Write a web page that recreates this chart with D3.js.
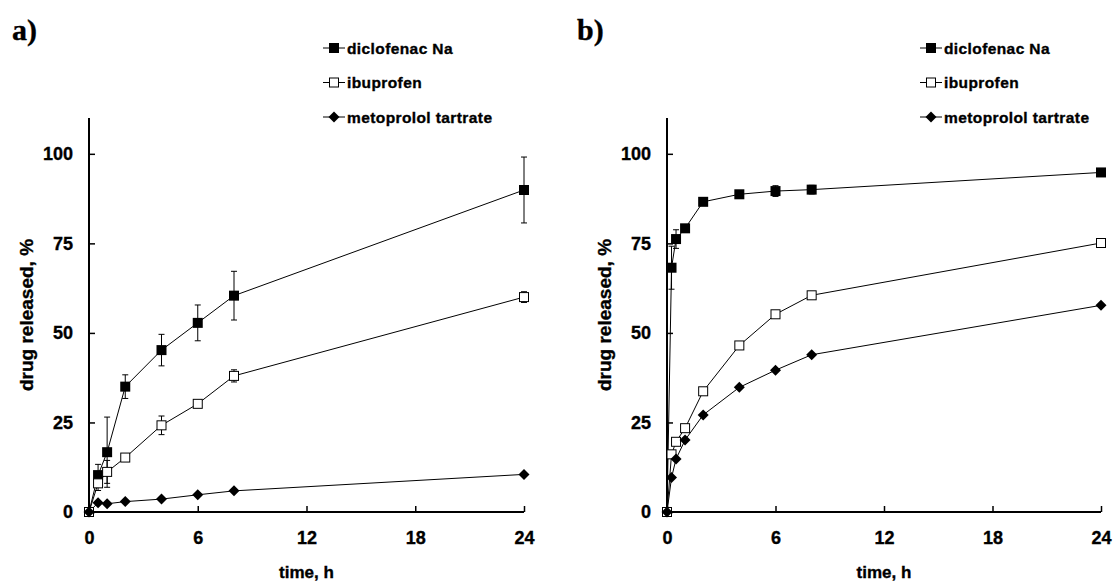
<!DOCTYPE html>
<html><head><meta charset="utf-8">
<script src="https://cdn.jsdelivr.net/npm/d3@7"></script>
<style>
body{margin:0;background:#fff;}
svg text{font-family:"Liberation Sans",Arial,sans-serif;font-weight:bold;fill:#000;stroke:#000;stroke-width:0.35px;}
</style></head>
<body><svg id="c" width="1115" height="581"></svg>
<script>
// ---- data ----
const seriesNames = ["diclofenac Na", "ibuprofen", "metoprolol tartrate"];
const xTicks = [0, 6, 12, 18, 24];
const yTicks = [0, 25, 50, 75, 100];

const timeA = [0, 0.5, 1, 2, 4, 6, 8, 24];
const dicloA = [0, 10.3, 16.7, 35.0, 45.2, 52.8, 60.4, 89.9];
const dicloA_sd = [0, 3.0, 9.8, 3.3, 4.4, 5.0, 6.8, 9.2];
const ibuA = [0, 8.0, 11.2, 15.2, 24.2, 30.2, 38.0, 60.0];
const ibuA_sd = [0, 2.0, 3.2, 0.6, 2.6, 0.8, 1.7, 1.5];
const metoA = [0, 2.6, 2.3, 2.9, 3.6, 4.8, 5.9, 10.5];
const metoA_sd = [0, 0.3, 0.3, 0.3, 0.3, 0.3, 0.3, 0.3];

const timeB = [0, 0.25, 0.5, 1, 2, 4, 6, 8, 24];
const dicloB = [0, 68.2, 76.2, 79.2, 86.6, 88.7, 89.6, 90.0, 94.8];
const dicloB_sd = [0, 6.0, 2.6, 0.8, 0.6, 1.0, 1.5, 1.2, 0.5];
const ibuB = [0, 16.1, 19.6, 23.4, 33.7, 46.5, 55.2, 60.5, 75.1];
const ibuB_sd = [0, 0.4, 0.4, 0.4, 0.4, 0.4, 0.4, 0.4, 0.4];
const metoB = [0, 9.6, 14.8, 20.1, 27.1, 34.8, 39.6, 43.9, 57.7];
const metoB_sd = [0, 0.3, 0.3, 0.3, 0.3, 0.3, 0.3, 0.3, 0.3];

const panels = [
  {label: "a)", time: timeA, series: [[dicloA, dicloA_sd], [ibuA, ibuA_sd], [metoA, metoA_sd]],
   x0: 89, x1: 524, labelX: 12, legX: 323},
  {label: "b)", time: timeB, series: [[dicloB, dicloB_sd], [ibuB, ibuB_sd], [metoB, metoB_sd]],
   x0: 667, x1: 1101, labelX: 577, legX: 920}
];

const svg = d3.select("#c");
const yTop = 118, yBot = 512;
const markerTypes = ["fsq", "osq", "dia"];

function drawMarker(g, type, cx, cy) {
  if (type === "fsq") {
    g.append("rect").attr("x", cx - 5).attr("y", cy - 5).attr("width", 10).attr("height", 10)
      .attr("fill", "#000");
  } else if (type === "osq") {
    g.append("rect").attr("x", cx - 4.5).attr("y", cy - 4.5).attr("width", 9).attr("height", 9)
      .attr("fill", "#fff").attr("stroke", "#000").attr("stroke-width", 1);
  } else {
    g.append("path").attr("d", `M${cx},${cy-5.5}L${cx+5.5},${cy}L${cx},${cy+5.5}L${cx-5.5},${cy}Z`)
      .attr("fill", "#000");
  }
}

panels.forEach(p => {
  const x = d3.scaleLinear().domain([0, 24]).range([p.x0, p.x1]);
  const y = d3.scaleLinear().domain([0, 110]).range([yBot, yTop]);

  // panel label
  svg.append("text").attr("x", p.labelX).attr("y", 40)
    .style("font-family", "'Liberation Serif','Times New Roman',serif")
    .style("font-size", "30px").text(p.label);

  // axes
  const gx = svg.append("g").attr("transform", `translate(0,${yBot})`)
    .call(d3.axisBottom(x).tickValues(xTicks).tickSizeInner(-6).tickSizeOuter(0).tickPadding(19));
  const gy = svg.append("g").attr("transform", `translate(${p.x0},0)`)
    .call(d3.axisLeft(y).tickValues(yTicks).tickSizeInner(-6).tickSizeOuter(0).tickPadding(16));
  [gx, gy].forEach(g => {
    g.select(".domain").attr("stroke-width", 2).attr("stroke", "#000");
    g.selectAll(".tick line").attr("stroke-width", 1.5).attr("stroke", "#000");
    g.selectAll(".tick text").style("font-size", "18px").style("font-family", "'Liberation Sans',Arial,sans-serif")
      .style("font-weight", "bold");
  });
  gx.select(".domain").attr("d", `M${p.x0 - 1},0H${p.x1}`);
  gy.select(".domain").attr("d", `M0,${yTop}V${yBot + 1}`);

  // axis titles
  svg.append("text").attr("x", (p.x0 + p.x1) / 2).attr("y", 578)
    .attr("text-anchor", "middle").style("font-size", "17px").text("time, h");
  svg.append("text").attr("transform", `translate(${p.x0 - 56},${(yTop + yBot) / 2}) rotate(-90)`)
    .attr("text-anchor", "middle").style("font-size", "19px").text("drug released, %");

  const line = d3.line().x(d => x(d[0])).y(d => y(d[1]));

  p.series.forEach(([vals]) => {
    const pts = p.time.map((t, i) => [t, vals[i]]);
    svg.append("path").datum(pts).attr("d", line).attr("fill", "none")
      .attr("stroke", "#000").attr("stroke-width", 1);
  });
  p.series.forEach(([vals, sd]) => {
    const g = svg.append("g").attr("stroke", "#000").attr("stroke-width", 1);
    p.time.forEach((t, i) => {
      if (sd[i] < 1) return;
      const cx = x(t), yt = y(vals[i] + sd[i]), yb = y(vals[i] - sd[i]);
      g.append("line").attr("x1", cx).attr("x2", cx).attr("y1", yt).attr("y2", yb);
      g.append("line").attr("x1", cx - 3).attr("x2", cx + 3).attr("y1", yt).attr("y2", yt);
      g.append("line").attr("x1", cx - 3).attr("x2", cx + 3).attr("y1", yb).attr("y2", yb);
    });
  });
  p.series.forEach(([vals], si) => {
    const g = svg.append("g");
    p.time.forEach((t, i) => drawMarker(g, markerTypes[si], x(t), y(vals[i])));
  });

  // legend
  seriesNames.forEach((name, si) => {
    const ly = 48 + si * 34.5;
    const g = svg.append("g");
    g.append("line").attr("x1", p.legX).attr("x2", p.legX + 22).attr("y1", ly).attr("y2", ly)
      .attr("stroke", "#000").attr("stroke-width", 1);
    drawMarker(g, markerTypes[si], p.legX + 11, ly);
    g.append("text").attr("x", p.legX + 24).attr("y", ly + 5.5).style("font-size", "15.5px")
      .style("letter-spacing", "0.4px").text(name);
  });
});
</script></body></html>
